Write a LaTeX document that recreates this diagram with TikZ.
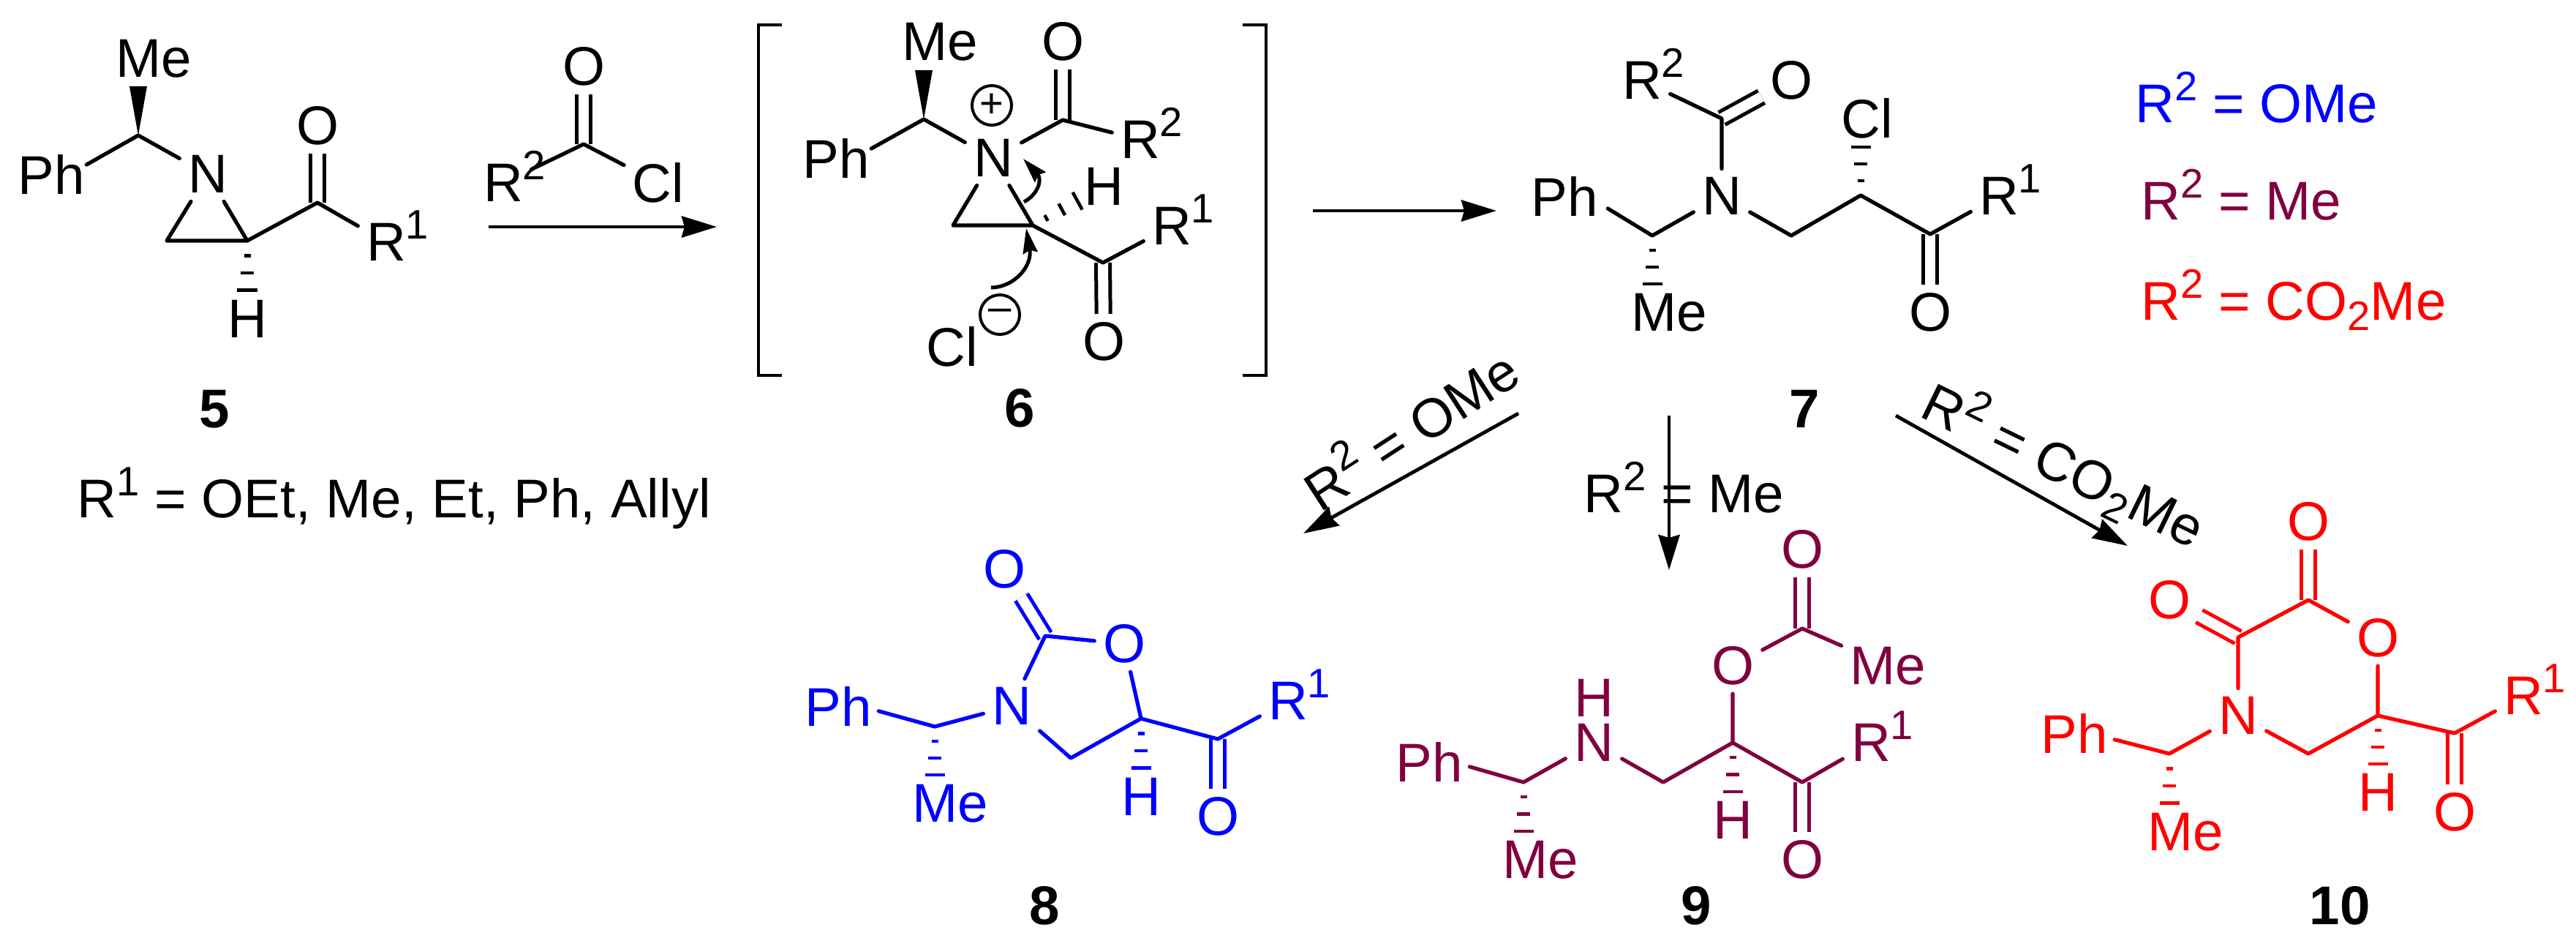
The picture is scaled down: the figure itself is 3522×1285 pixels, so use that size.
\documentclass[tikz,border=0pt]{standalone}
\usepackage{fontspec}
\setmainfont{Liberation Sans}
\usetikzlibrary{calc,arrows.meta}

\definecolor{mauve}{RGB}{128,0,64}

\newcommand{\chemsize}{\fontsize{21.2}{23}\selectfont}
\newcommand{\supnum}[1]{\raisebox{8.5pt}{\fontsize{16}{17}\selectfont #1}}
\newcommand{\rsub}[1]{R\smash{\rlap{\supnum{#1}}}}
\newcommand{\hashbond}[2]{%
    \foreach \pos/\half in {0.19/0.045cm,0.41/0.09cm,0.63/0.135cm}{%
        \draw[hashline] ($(#1)!\pos!(#2)!\half!90:(#2)$) -- ($(#1)!\pos!(#2)!-\half!90:(#2)$);
    }%
}
\newcommand{\wedgebond}[2]{\fill (#1) -- ($(#2)+(-12,0)$) -- ($(#2)+(12,0)$) -- cycle;}

\tikzset{
    atom/.style={inner sep=.11cm,font=\chemsize},
    phenyl/.style={atom,inner xsep=.02cm},
    plain/.style={inner sep=0pt,font=\chemsize},
    cmpd/.style={inner sep=0pt,font=\chemsize\bfseries},
    charge/.style={circle,draw,line width=.04cm,minimum size=.54cm,inner sep=0pt,font=\fontsize{16}{17}\selectfont},
    bond/.style={line width=.052cm,line cap=round,line join=round},
    dbl/.style={line width=.05cm,line cap=butt,double,double distance=.14cm},
    hashline/.style={line width=.045cm},
    brk/.style={line width=.045cm},
    rxn/.style={-{Stealth[length=.48cm,width=.29cm,inset=.04cm]},line width=.048cm},
    curly/.style={-{Stealth[length=.34cm,width=.2cm,inset=.04cm]},line width=.05cm},
}

\begin{document}
\begin{tikzpicture}[x=.01cm,y=-.01cm]
    \useasboundingbox (0,0) rectangle (3522,1285);

    \node[atom] (me5) at (210,80) {Me};
    \node[phenyl] (ph5) at (70,238) {Ph};
    \node[atom] (n5) at (284,238) {N};
    \node[atom] (h5) at (338,436) {H};
    \node[atom] (r5) at (528,331) {\rsub{1}};
    \node[atom] (o5) at (434,172) {O};
    \node[cmpd] (lab5) at (293,559) {5};
    \node[plain,anchor=base west] (rone) at (105,707) {R\supnum{1} = OEt, Me, Et, Ph, Allyl};
    \coordinate (c5a) at (189,185);
    \coordinate (c5b) at (228,329);
    \coordinate (c5c) at (338,329);
    \coordinate (c5d) at (434,277);
    \coordinate (w5) at (189,118);
    \wedgebond{c5a}{w5}
    \hashbond{c5c}{h5}
    \draw[dbl] (c5d) -- (o5);
    \draw[bond] (ph5.15) -- (c5a) -- (n5);
    \draw[bond] (n5) -- (c5b) -- (c5c) -- (n5);
    \draw[bond] (c5c) -- (c5d) -- (r5);

    \node[atom] (oa) at (798,91) {O};
    \node[atom] (ra) at (688,250) {\rsub{2}};
    \node[atom] (cla) at (900,250) {Cl};
    \coordinate (ca) at (798,197);
    \draw[dbl] (ca) -- (oa);
    \draw[bond] (ra) -- (ca) -- (cla);
    \coordinate (s1) at (668,310);
    \coordinate (t1) at (980,310);
    \draw[rxn] (s1) -- (t1);

    \draw[brk] (1069,34) -- (1037,34) -- (1037,513) -- (1069,513);
    \draw[brk] (1699,34) -- (1731,34) -- (1731,513) -- (1699,513);
    \node[atom] (me6) at (1285,57) {Me};
    \node[phenyl] (ph6) at (1143,216) {Ph};
    \node[atom] (n6) at (1358,216) {N};
    \node[charge] (plus6) at (1356,144) {+};
    \node[atom] (oa6) at (1453,57) {O};
    \node[atom] (r26) at (1559,191) {\rsub{2}};
    \node[atom] (h6) at (1509,255) {H};
    \node[atom] (r16) at (1602,309) {\rsub{1}};
    \node[atom] (ob6) at (1509,467) {O};
    \node[atom] (cl6) at (1302,474) {Cl};
    \node[charge] (minus6) at (1367,430) {–};
    \node[cmpd] (lab6) at (1394,558) {6};
    \coordinate (c6a) at (1263,163);
    \coordinate (c6b) at (1453,164);
    \coordinate (c6c) at (1303,308);
    \coordinate (c6d) at (1412,308);
    \coordinate (c6e) at (1508,359);
    \coordinate (w6) at (1263,96);
    \coordinate (s6a) at (1400,276);
    \coordinate (t6a) at (1399,217);
    \coordinate (s6b) at (1355,393);
    \coordinate (t6b) at (1403,312);
    \wedgebond{c6a}{w6}
    \hashbond{c6d}{h6}
    \draw[dbl] (c6b) -- (oa6);
    \draw[dbl] (c6e) -- (ob6);
    \draw[bond] (ph6.15) -- (c6a) -- (n6);
    \draw[bond] (n6) -- (c6b) -- (r26);
    \draw[bond] (n6) -- (c6c) -- (c6d) -- (n6);
    \draw[bond] (c6d) -- (c6e) -- (r16);
    \draw[curly] (s6a) .. controls (1420,265) and (1425,245) .. (t6a);
    \draw[curly] (s6b) .. controls (1385,393) and (1412,365) .. (t6b);
    \coordinate (s2) at (1795,288);
    \coordinate (t2) at (2046,288);
    \draw[rxn] (s2) -- (t2);

    \node[atom] (r27) at (2245,110) {\rsub{2}};
    \node[atom] (oa7) at (2449,110) {O};
    \node[atom] (n7) at (2354,268) {N};
    \node[phenyl,inner xsep=.13cm] (ph7) at (2139,268) {Ph};
    \node[atom] (me7) at (2282,427) {Me};
    \node[atom] (cl7) at (2553,162) {Cl};
    \node[atom] (r17) at (2733,268) {\rsub{1}};
    \node[atom] (ob7) at (2639,427) {O};
    \node[cmpd] (lab7) at (2467,559) {7};
    \coordinate (c7a) at (2354,162);
    \coordinate (c7b) at (2259,322);
    \coordinate (c7c) at (2449,322);
    \coordinate (c7d) at (2544,267);
    \coordinate (c7e) at (2639,320);
    \hashbond{c7b}{c7b|-me7}
    \hashbond{c7d}{c7d|-cl7}
    \draw[dbl] (c7a) -- (oa7);
    \draw[dbl] (c7e) -- (ob7);
    \draw[bond] (r27) -- (c7a) -- (n7);
    \draw[bond] (ph7.-16) -- (c7b) -- (n7);
    \draw[bond] (n7) -- (c7c) -- (c7d) -- (c7e) -- (r17);

    \node[plain,anchor=base west,blue] (keya) at (2919,167) {R\supnum{2} = OMe};
    \node[plain,anchor=base west,mauve] (keyb) at (2927,300) {R\supnum{2} = Me};
    \node[plain,anchor=base west,red] (keyc) at (2927,437) {R\supnum{2} = CO\raisebox{-4pt}{\fontsize{16}{17}\selectfont 2}Me};

    \coordinate (s3) at (2076,565);
    \coordinate (t3) at (1782,729);
    \draw[rxn] (s3) -- (t3);
    \node[plain,rotate=33] (conda) at (1926,582) {R\supnum{2} = OMe};
    \coordinate (s4) at (2282,568);
    \coordinate (t4) at (2282,779);
    \node[plain,anchor=base west] (condb) at (2165,700) {R\supnum{2} = Me};
    \draw[rxn] (s4) -- (t4);
    \coordinate (s5) at (2592,568);
    \coordinate (t5) at (2909,746);
    \draw[rxn] (s5) -- (t5);
    \node[plain,rotate=-26] (condc) at (2822,635) {R\supnum{2} = CO\raisebox{-4pt}{\fontsize{16}{17}\selectfont 2}Me};

    \begin{scope}[color=blue]
        \node[atom] (oa8) at (1373,778) {O};
        \node[atom] (ob8) at (1537,880) {O};
        \node[atom] (n8) at (1383,965) {N};
        \node[phenyl,inner xsep=.09cm] (ph8) at (1146,965) {Ph};
        \node[atom] (me8) at (1299,1098) {Me};
        \node[atom] (h8) at (1560,1089) {H};
        \node[atom] (r8) at (1761,958) {\rsub{1}};
        \node[atom] (oc8) at (1665,1116) {O};
        \coordinate (c8a) at (1429,869);
        \coordinate (c8b) at (1278,993);
        \coordinate (c8c) at (1464,1036);
        \coordinate (c8d) at (1560,982);
        \coordinate (c8e) at (1665,1010);
        \hashbond{c8b}{c8b|-me8}
        \hashbond{c8d}{h8}
        \draw[dbl] (c8a) -- (oa8);
        \draw[dbl] (c8e) -- (oc8);
        \draw[bond] (n8) -- (c8a) -- (ob8);
        \draw[bond] (ph8.-7) -- (c8b) -- (n8);
        \draw[bond] (n8) -- (c8c) -- (c8d) -- (ob8);
        \draw[bond] (c8d) -- (c8e) -- (r8);
    \end{scope}
    \node[cmpd] (lab8) at (1428,1238) {8};

    \begin{scope}[color=mauve]
        \node[atom] (oa9) at (2464,751) {O};
        \node[atom] (ob9) at (2369,910) {O};
        \node[atom] (me9) at (2581,910) {Me};
        \node[atom] (n9) at (2179,1015) {N};
        \node[atom,inner sep=0pt] (nh9) at (2179,954) {H};
        \node[phenyl,inner xsep=.09cm] (ph9) at (1954,1041) {Ph};
        \node[atom] (mf9) at (2106,1175) {Me};
        \node[atom] (h9) at (2369,1121) {H};
        \node[atom] (r9) at (2558,1015) {\rsub{1}};
        \node[atom] (oc9) at (2464,1175) {O};
        \coordinate (c9a) at (2464,859);
        \coordinate (c9b) at (2369,1015);
        \coordinate (c9c) at (2274,1069);
        \coordinate (c9d) at (2083,1069);
        \coordinate (c9e) at (2464,1069);
        \hashbond{c9d}{c9d|-mf9}
        \hashbond{c9b}{h9}
        \draw[dbl] (c9a) -- (oa9);
        \draw[dbl] (c9e) -- (oc9);
        \draw[bond] (ob9) -- (c9a) -- (me9);
        \draw[bond] (ob9) -- (c9b) -- (c9c) -- (n9);
        \draw[bond] (ph9.-7) -- (c9d) -- (n9);
        \draw[bond] (c9b) -- (c9e) -- (r9);
    \end{scope}
    \node[cmpd] (lab9) at (2319,1238) {9};

    \begin{scope}[color=red]
        \node[atom] (oa10) at (3156,713) {O};
        \node[atom] (ob10) at (2966,820) {O};
        \node[atom] (oc10) at (3251,872) {O};
        \node[atom] (n10) at (3060,978) {N};
        \node[phenyl,inner xsep=.09cm] (ph10) at (2836,1002) {Ph};
        \node[atom] (me10) at (2988,1137) {Me};
        \node[atom] (h10) at (3251,1083) {H};
        \node[atom] (r10) at (3450,951) {\rsub{1}};
        \node[atom] (od10) at (3356,1110) {O};
        \coordinate (c10a) at (3156,820);
        \coordinate (c10b) at (3060,871);
        \coordinate (c10c) at (3251,978);
        \coordinate (c10d) at (3156,1030);
        \coordinate (c10e) at (2966,1030);
        \coordinate (c10f) at (3356,1002);
        \hashbond{c10e}{c10e|-me10}
        \hashbond{c10c}{h10}
        \draw[dbl] (c10a) -- (oa10);
        \draw[dbl] (c10b) -- (ob10);
        \draw[dbl] (c10f) -- (od10);
        \draw[bond] (n10) -- (c10b) -- (c10a) -- (oc10);
        \draw[bond] (oc10) -- (c10c) -- (c10d) -- (n10);
        \draw[bond] (ph10.-9) -- (c10e) -- (n10);
        \draw[bond] (c10c) -- (c10f) -- (r10);
    \end{scope}
    \node[cmpd] (lab10) at (3199,1238) {10};
\end{tikzpicture}
\end{document}
